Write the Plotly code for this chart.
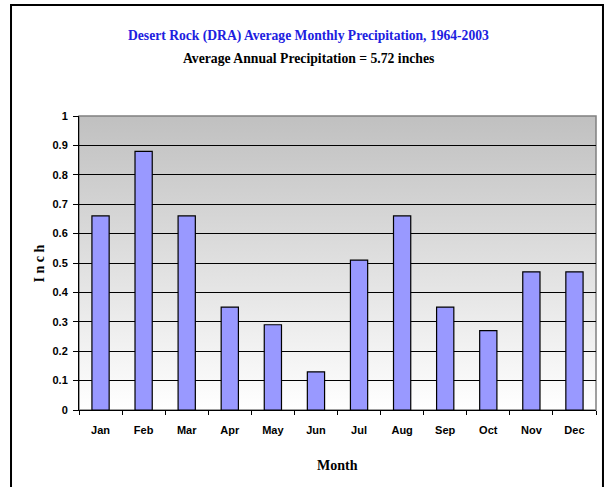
import base64
import plotly.graph_objects as go

months = ["Jan", "Feb", "Mar", "Apr", "May", "Jun", "Jul", "Aug", "Sep", "Oct", "Nov", "Dec"]
precip = [0.66, 0.88, 0.66, 0.35, 0.29, 0.13, 0.51, 0.66, 0.35, 0.27, 0.47, 0.47]
y_ticks = [0, 0.1, 0.2, 0.3, 0.4, 0.5, 0.6, 0.7, 0.8, 0.9, 1]
y_labels = ["0", "0.1", "0.2", "0.3", "0.4", "0.5", "0.6", "0.7", "0.8", "0.9", "1"]

svg = ('<svg xmlns="http://www.w3.org/2000/svg" width="100" height="100" preserveAspectRatio="none">'
       '<defs><linearGradient id="g" x1="0" y1="0" x2="0" y2="1">'
       '<stop offset="0" stop-color="#c0c0c0"/><stop offset="1" stop-color="#ffffff"/>'
       '</linearGradient></defs><rect width="100" height="100" fill="url(#g)"/></svg>')
src = "data:image/svg+xml;base64," + base64.b64encode(svg.encode()).decode()

fig = go.Figure(go.Bar(
    x=months, y=precip, width=0.4,
    marker=dict(color="#9999ff", line=dict(color="#000000", width=1.2)),
))

sans = "Liberation Sans, Arial"
serif = "Liberation Serif, Times New Roman, serif"

fig.update_layout(
    width=605, height=487,
    margin=dict(l=79, r=9, t=116, b=77),
    paper_bgcolor="white", plot_bgcolor="rgba(0,0,0,0)",
    showlegend=False,
    images=[dict(source=src, xref="paper", yref="paper", x=0, y=1, sizex=1, sizey=1,
                 sizing="stretch", layer="below", xanchor="left", yanchor="top")],
    xaxis=dict(type="category", showgrid=False, tickson="boundaries", ticks="outside",
               ticklen=4, tickcolor="#000", showline=True, linecolor="#000", linewidth=1,
               tickfont=dict(family=sans, size=11, color="#000", weight="bold"),
               ticklabelstandoff=10),
    yaxis=dict(range=[0, 1], tickvals=y_ticks, ticktext=y_labels, showgrid=True,
               gridcolor="#000", gridwidth=1, ticks="outside", ticklen=5, tickcolor="#000",
               showline=True, linecolor="#000", linewidth=1, zeroline=False,
               tickfont=dict(family=sans, size=11, color="#000", weight="bold"),
               ticklabelstandoff=3),
    annotations=[
        dict(text="Desert Rock (DRA) Average Monthly Precipitation, 1964-2003", xref="paper", yref="paper",
             x=0.443, y=1.306, showarrow=False, font=dict(family=serif, size=13.6, color="#2020e0", weight="bold")),
        dict(text="Average Annual Precipitation = 5.72 inches", xref="paper", yref="paper",
             x=0.443, y=1.227, showarrow=False, font=dict(family=serif, size=13.7, color="#000", weight="bold")),
        dict(text="Month", xref="paper", yref="paper", x=0.5, y=-0.222, showarrow=False,
             font=dict(family=serif, size=14, color="#000", weight="bold")),
        dict(text="I n c h", xref="paper", yref="paper", x=-0.095, y=0.5, showarrow=False, textangle=-90,
             font=dict(family=serif, size=14, color="#000", weight="bold")),
    ],
    shapes=[
        dict(type="rect", xref="paper", yref="paper", x0=0, x1=1, y0=0, y1=1,
             line=dict(color="#808080", width=1.5), fillcolor="rgba(0,0,0,0)", layer="below"),
        dict(type="rect", xref="paper", yref="paper", x0=-0.1315, x1=1.0135, y0=-0.3, y1=1.3776,
             line=dict(color="#000", width=2), fillcolor="rgba(0,0,0,0)", layer="above"),
    ],
)

fig.write_html("out.html", config={"displayModeBar": False},
               post_script="document.body.style.margin='0px';")
